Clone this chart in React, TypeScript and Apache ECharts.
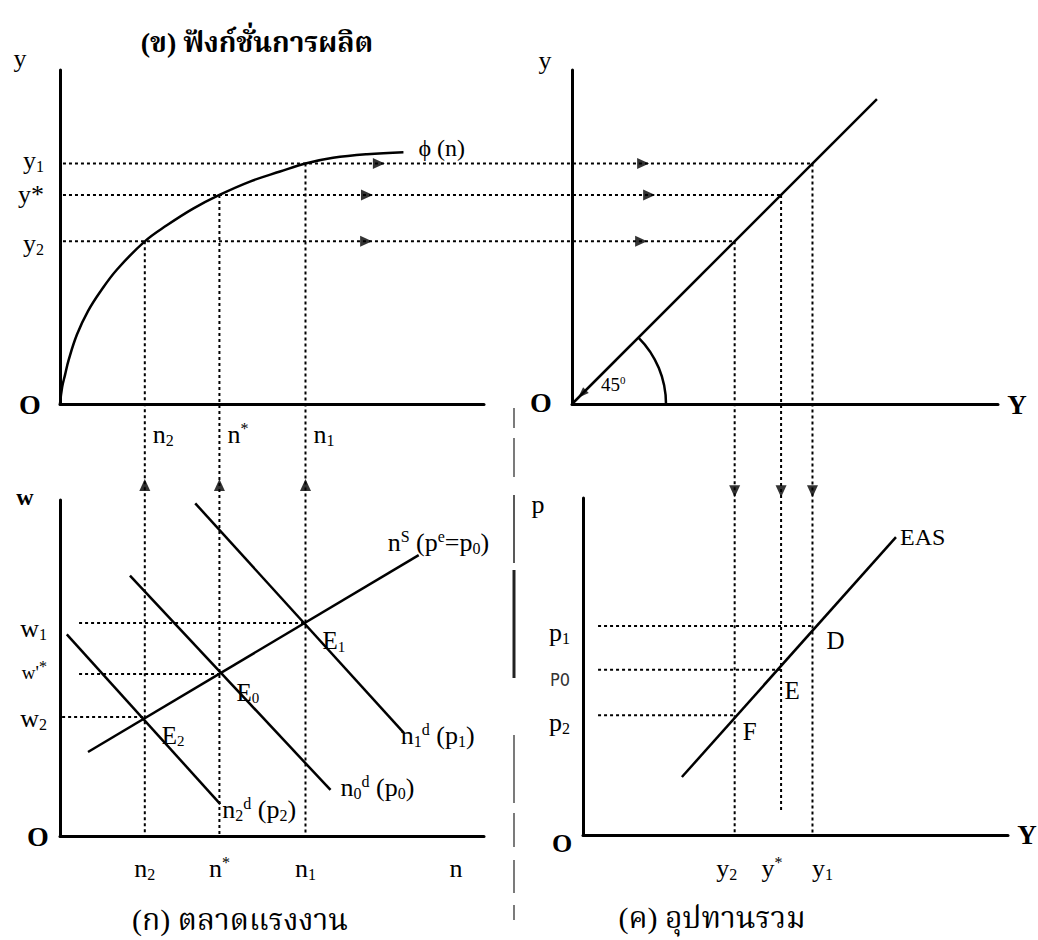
import React, { useEffect, useRef } from "react";
import * as echarts from "echarts";

const SERIF = '"Liberation Serif", "Times New Roman", serif';
const THAI = '"Liberation Serif", "Noto Serif Thai", "Noto Sans Thai", "Tlwg Typo", "Loma", "Garuda", "DejaVu Sans", serif';
const SANS_N = '"Liberation Sans Narrow", "DejaVu Sans Condensed", "Liberation Sans", sans-serif';

// ---- data (index 0 = low "2", 1 = middle "*" / "0", 2 = high "1") ----
const nValues = [2.0, 3.76, 5.79];
const nLabels = ["n2", "n*", "n1"];
const yValues = [4.87, 6.26, 7.2];
const yLabelsTop = ["y2", "y*", "y1"];
const yLabelsBottom = ["y2", "y^*", "y1"];
const wValues = [3.54, 4.82, 6.34];
const wLabels = ["w2", "w'*", "w1"];
const pValues = [3.55, 4.9, 6.2];
const pLabels = ["p2", "P0", "p1"];
const eLabels = ["E2", "E0", "E1"];
const asLabels = ["F", "E", "D"];

// production function y = phi(n)
const prodN = [0, 0.05, 0.12, 0.2, 0.4, 0.66, 0.96, 1.34, 2.0, 2.52, 3.14, 3.76, 4.48, 5.19, 5.79, 6.44, 7.24, 8.1];
const prodY = [0, 0.5, 0.88, 1.3, 2.08, 2.78, 3.38, 4.02, 4.87, 5.35, 5.85, 6.26, 6.66, 6.96, 7.2, 7.37, 7.48, 7.54];
// labour market
const supplyN = [0.66, 8.46];
const supplyW = [2.5, 8.36];
const demand2N = [0.16, 3.78];
const demand2W = [6.0, 0.95];
const demand0N = [1.65, 6.38];
const demand0W = [7.75, 1.37];
const demand1N = [3.19, 8.11];
const demand1W = [9.9, 3.07];
// 45 degree line
const diagY = [0, 9.13];
// expected aggregate supply
const easY = [3.29, 9.7];
const easP = [1.72, 8.84];
// arrow positions on the connectors
const arrowTopLeftN = [7.22, 7.24, 7.52];
const arrowTopRightY = [2.07, 2.31, 2.13];
const arrowUpW = 10.45;
const arrowDownP = 10.2;

// ---- layout ----
const GRIDS = [
  { left: 60, top: 70, width: 424, height: 334 },
  { left: 572, top: 70, width: 426, height: 334 },
  { left: 60, top: 500, width: 424, height: 336 },
  { left: 583, top: 498, width: 425, height: 337 },
];
const UNIT = 334 / 10; // px per unit of y in top row; used for Y axes so the 45° line is true
const X_RANGES = [
  [0, 10],
  [0, 426 / UNIT],
  [0, 10],
  [(583 - 572) / UNIT, (583 - 572) / UNIT + 425 / UNIT],
];

const RICH: Record<string, string> = {
  y2: "{b|y}{s|2}",
  "y*": "{b|y*}",
  "y^*": "{b|y}{u|*}",
  y1: "{b|y}{s|1}",
  n2: "{b|n}{s|2}",
  "n*": "{b|n}{u|*}",
  n1: "{b|n}{s|1}",
  w2: "{b|w}{s|2}",
  "w'*": "{m|w'}{u|*}",
  w1: "{b|w}{s|1}",
  p2: "{b|p}{s|2}",
  P0: "{p|P0}",
  p1: "{b|p}{s|1}",
  E2: "{b|E}{s|2}",
  E0: "{b|E}{s|0}",
  E1: "{b|E}{s|1}",
};

function richStyles(size: number, weight = "normal") {
  const small = Math.round(size * 0.6);
  return {
    b: { fontSize: size, fontFamily: SERIF, fontWeight: weight, lineHeight: size + 2, fill: "#000", color: "#000" },
    s: { fontSize: small, fontFamily: SERIF, verticalAlign: "bottom", lineHeight: small, fill: "#000", color: "#000" },
    u: { fontSize: small, fontFamily: SERIF, verticalAlign: "top", lineHeight: small, fill: "#000", color: "#000" },
    m: { fontSize: 19, fontFamily: SERIF, lineHeight: size + 2, fill: "#000", color: "#000" },
    p: { fontSize: 18, fontFamily: SANS_N, lineHeight: size + 2, fill: "#333", color: "#333" },
  };
}

function T(
  x: number,
  y: number,
  text: string,
  size: number,
  opts: { align?: string; weight?: string; family?: string } = {}
) {
  return {
    type: "text",
    x,
    y,
    silent: true,
    z: 20,
    style: {
      text,
      align: opts.align || "center",
      verticalAlign: "middle",
      fontSize: size,
      fontFamily: opts.family || SERIF,
      fontWeight: opts.weight || "normal",
      fill: "#000",
      rich: richStyles(size, opts.weight || "normal"),
    },
  };
}

function lineSeries(g: number, xs: number[], ys: number[], extra: any = {}) {
  return {
    type: "line",
    xAxisIndex: g,
    yAxisIndex: g,
    data: xs.map((x, i) => [x, ys[i]]),
    symbol: "none",
    silent: true,
    clip: false,
    lineStyle: { color: "#000", width: 2.5 },
    ...extra,
  };
}

const DOT = { color: "#000", width: 2, type: [3, 3] };

function arrowSeries(g: number, pts: number[][], rotate: number, size: number[] = [11, 12]) {
  return {
    type: "scatter",
    xAxisIndex: g,
    yAxisIndex: g,
    data: pts,
    symbol: "triangle",
    symbolSize: size,
    symbolRotate: rotate,
    itemStyle: { color: "#000" },
    clip: false,
    silent: true,
    z: 5,
  };
}

export default function App() {
  const ref = useRef<HTMLDivElement>(null);
  useEffect(() => {
    if (!ref.current) return;
    const chart = echarts.init(ref.current, null, { renderer: "svg" });
    const axisCommon = {
      type: "value",
      axisLine: { show: true, onZero: false, lineStyle: { color: "#000", width: 3 } },
      axisTick: { show: false },
      axisLabel: { show: false },
      splitLine: { show: false },
    };
    const series: any[] = [
      lineSeries(0, prodN, prodY, { smooth: 0.4 }),
      lineSeries(1, diagY, diagY),
      lineSeries(2, supplyN, supplyW),
      lineSeries(2, demand2N, demand2W),
      lineSeries(2, demand0N, demand0W),
      lineSeries(2, demand1N, demand1W),
      lineSeries(3, easY, easP),
    ];
    // dotted guides inside the bottom panels
    const wStart = [0.05, 0.45, 0.45];
    nValues.forEach((n, i) => {
      series.push(lineSeries(2, [wStart[i], n], [wValues[i], wValues[i]], { lineStyle: DOT }));
    });
    yValues.forEach((y, i) => {
      series.push(lineSeries(3, [0.78, y], [pValues[i], pValues[i]], { lineStyle: DOT }));
    });
    // arrows
    series.push(arrowSeries(0, arrowTopLeftN.map((n, i) => [n, yValues[i]]), -90));
    series.push(arrowSeries(1, arrowTopRightY.map((v, i) => [v, yValues[i]]), -90));
    series.push(arrowSeries(2, nValues.map((n) => [n, arrowUpW]), 0));
    series.push(arrowSeries(3, yValues.map((v) => [v, arrowDownP]), 180));
    series.push(arrowSeries(1, [[0.3, 0.3]], 135, [8, 11]));

    chart.setOption({
      animation: false,
      backgroundColor: "#fff",
      grid: GRIDS.map((g) => ({ ...g, containLabel: false })),
      xAxis: GRIDS.map((_, i) => ({ ...axisCommon, gridIndex: i, min: X_RANGES[i][0], max: X_RANGES[i][1], position: "bottom" })),
      yAxis: GRIDS.map((_, i) => ({ ...axisCommon, gridIndex: i, min: 0, max: 10, position: "left" })),
      series,
    });

    const px = (g: number, x: number, y: number) =>
      chart.convertToPixel({ gridIndex: g } as any, [x, y]) as unknown as number[];

    const gfx: any[] = [];
    const dotted = (a: number[], b: number[]) =>
      gfx.push({
        type: "line",
        silent: true,
        z: 4,
        shape: { x1: a[0], y1: a[1], x2: b[0], y2: b[1] },
        style: { stroke: "#000", lineWidth: 2, lineDash: [3, 3] },
      });

    // connectors between panels
    nValues.forEach((n, i) => {
      dotted(px(0, n, yValues[i]), px(2, n, 0));
      dotted(px(0, 0.07, yValues[i]), px(1, yValues[i], yValues[i]));
      dotted(px(1, yValues[i], yValues[i]), px(3, yValues[i], i === 1 ? 0.68 : 0));
    });

    // 45 degree arc
    const o1 = px(1, 0, 0);
    gfx.push({
      type: "arc",
      silent: true,
      shape: { cx: o1[0], cy: o1[1], r: 94, startAngle: -Math.PI / 4, endAngle: 0, clockwise: true },
      style: { stroke: "#000", lineWidth: 2.5, fill: "none" },
    });

    // separator (scanned dashed line)
    const sep = [
      [408, 428, 1.2],
      [438, 477, 1.2],
      [495, 563, 1.5],
      [570, 678, 3],
      [735, 803, 1.2],
      [813, 847, 1.2],
      [860, 893, 1.2],
      [905, 920, 1.2],
    ];
    sep.forEach(([a, b, w]) =>
      gfx.push({ type: "line", silent: true, shape: { x1: 514, y1: a, x2: 514, y2: b }, style: { stroke: "#222", lineWidth: w } })
    );

    // ---- texts ----
    const g0 = GRIDS[0], g1 = GRIDS[1], g2 = GRIDS[2], g3 = GRIDS[3];
    // top-left
    gfx.push(T(257, 42, "(ข) ฟังก์ชั่นการผลิต", 28, { weight: "bold", family: THAI }));
    gfx.push(T(g0.left - 40, g0.top - 12, "y", 26));
    gfx.push(T(g0.left - 30, g0.top + g0.height, "O", 28, { weight: "bold" }));
    yValues.forEach((v, i) => {
      const p = px(0, 0, v);
      gfx.push(T(44, p[1] + [2, 0, -3][i], RICH[yLabelsTop[i]], 26, { align: "right" }));
    });
    nValues.forEach((n, i) => {
      const p = px(0, n, 0);
      gfx.push(T(p[0] + 8, p[1] + 30, RICH[nLabels[i]], 26, { align: "left" }));
    });
    const cEnd = px(0, prodN[prodN.length - 1], prodY[prodY.length - 1]);
    gfx.push(T(cEnd[0] + 15, cEnd[1] - 4, "ϕ (n)", 24, { align: "left" }));

    // top-right
    gfx.push(T(g1.left - 27, g1.top - 10, "y", 26));
    gfx.push(T(g1.left - 31, g1.top + g1.height - 2, "O", 28, { weight: "bold" }));
    gfx.push(T(g1.left + g1.width + 19, g1.top + g1.height + 1, "Y", 27, { weight: "bold" }));
    gfx.push(T(o1[0] + 29, o1[1] - 20, "45{u|0}", 19, { align: "left" }));

    // bottom-left
    gfx.push(T(g2.left - 35, g2.top - 3, "w", 24, { weight: "bold" }));
    gfx.push(T(g2.left - 22, g2.top + g2.height, "O", 28, { weight: "bold" }));
    wValues.forEach((v, i) => {
      const p = px(2, 0, v);
      gfx.push(T(47, p[1] + [1, -2, 6][i], RICH[wLabels[i]], 26, { align: "right" }));
    });
    nValues.forEach((n, i) => {
      const e = px(2, n, wValues[i]);
      gfx.push(T(e[0] + 17, e[1] + 18, RICH[eLabels[i]], 25, { align: "left" }));
      const b = px(2, n, 0);
      gfx.push(T(b[0], b[1] + 32, RICH[nLabels[i]], 26));
    });
    gfx.push(T(456, g2.top + g2.height + 32, "n", 26));
    const sEnd = px(2, supplyN[1], supplyW[1]);
    gfx.push(T(sEnd[0] - 31, sEnd[1] - 13, "{b|n}{u|S}{b| (p}{u|e}{b|=p}{s|0}{b|)}", 26, { align: "left" }));
    const d1 = px(2, demand1N[1], demand1W[1]);
    gfx.push(T(d1[0] - 3, d1[1] + 3, "{b|n}{s|1}{u|d}{b| (p}{s|1}{b|)}", 26, { align: "left" }));
    const d0 = px(2, demand0N[1], demand0W[1]);
    gfx.push(T(d0[0] + 10, d0[1] - 2, "{b|n}{s|0}{u|d}{b| (p}{s|0}{b|)}", 26, { align: "left" }));
    const d2 = px(2, demand2N[1], demand2W[1]);
    gfx.push(T(d2[0] + 2, d2[1] + 5, "{b|n}{s|2}{u|d}{b| (p}{s|2}{b|)}", 26, { align: "left" }));
    gfx.push(T(240, 919, "(ก) ตลาดแรงงาน", 30, { family: THAI }));

    // bottom-right
    gfx.push(T(g3.left - 45, g3.top + 6, "p", 26));
    gfx.push(T(g3.left - 21, g3.top + g3.height + 8, "O", 26, { weight: "bold" }));
    gfx.push(T(g3.left + g3.width + 19, g3.top + g3.height, "Y", 27, { weight: "bold" }));
    pValues.forEach((v, i) => {
      const p = px(3, X_RANGES[3][0], v);
      gfx.push(T(570, p[1] + [7, 10, 6][i], RICH[pLabels[i]], 26, { align: "right" }));
    });
    yValues.forEach((v, i) => {
      const a = px(3, v, pValues[i]);
      gfx.push(T(a[0] + [15, 11, 23][i], a[1] + [16, 21, 14][i], asLabels[i], 25));
      const b = px(3, v, 0);
      gfx.push(T(b[0] + [-8, -9, 10][i], b[1] + 33, RICH[yLabelsBottom[i]], 26));
    });
    const eEnd = px(3, easY[1], easP[1]);
    gfx.push(T(eEnd[0] + 4, eEnd[1], "EAS", 24, { align: "left" }));
    gfx.push(T(712, 917, "(ค) อุปทานรวม", 30, { family: THAI }));

    chart.setOption({ graphic: gfx });
    return () => chart.dispose();
  }, []);
  return (
    <div
      ref={ref}
      style={{ position: "absolute", left: 0, top: 0, width: 1038, height: 940, background: "#fff" }}
    />
  );
}
